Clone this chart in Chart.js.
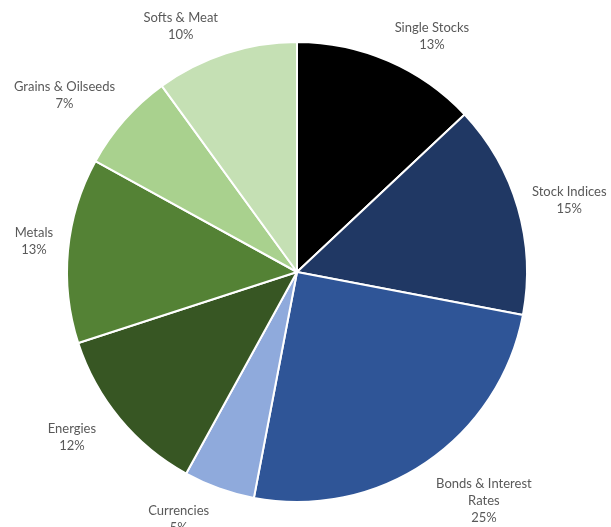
<!DOCTYPE html>
<html>
<head>
<meta charset="utf-8">
<script src="https://cdn.jsdelivr.net/npm/chart.js@4.4.1/dist/chart.umd.min.js"></script>
<style>
  html, body { margin: 0; padding: 0; background: #ffffff; }
  #wrap { width: 611px; height: 527px; position: relative; }
</style>
</head>
<body>
<div id="wrap"><canvas id="chart" width="611" height="527"></canvas></div>
<script>
// Portfolio allocation by sector (percent)
const categories = [
  ['Single Stocks'],
  ['Stock Indices'],
  ['Bonds & Interest', 'Rates'],
  ['Currencies'],
  ['Energies'],
  ['Metals'],
  ['Grains & Oilseeds'],
  ['Softs & Meat']
];
const shares = [13, 15, 25, 5, 12, 13, 7, 10];
const sliceColors = ['#000000', '#203864', '#2F5597', '#8FAADC', '#375623', '#548235', '#A9D18E', '#C5E0B4'];

// Extra shift applied to each outside label after geometric placement
const labelNudge = [[24, 2], [4, 1], [24, 8], [-26, 4], [-20, 0], [-3, -6], [-13, -5], [-30, 1]];

const outsideLabels = {
  id: 'outsideLabels',
  afterDatasetsDraw(chart) {
    const ctx = chart.ctx;
    const meta = chart.getDatasetMeta(0);
    const lineH = 17;
    ctx.save();
    ctx.font = '13px Lato, "Open Sans", sans-serif';
    ctx.fillStyle = '#595959';
    ctx.textAlign = 'center';
    ctx.textBaseline = 'middle';
    meta.data.forEach((arc, i) => {
      const p = arc.getProps(['x', 'y', 'startAngle', 'endAngle', 'outerRadius'], true);
      const mid = (p.startAngle + p.endAngle) / 2;
      const dx = Math.cos(mid), dy = Math.sin(mid);
      const lines = categories[i].concat([shares[i] + '%']);
      const w = Math.max(...lines.map(t => ctx.measureText(t).width));
      const h = lines.length * lineH;
      const r = p.outerRadius + 12;
      const cx = p.x + r * dx + dx * w / 2 + labelNudge[i][0];
      const cy = p.y + r * dy + dy * h / 2 + labelNudge[i][1];
      lines.forEach((t, k) => {
        ctx.fillText(t, cx, cy - h / 2 + lineH / 2 + k * lineH);
      });
    });
    ctx.restore();
  }
};

new Chart(document.getElementById('chart'), {
  type: 'pie',
  data: {
    labels: categories.map(c => c.join(' ')),
    datasets: [{
      data: shares,
      backgroundColor: sliceColors,
      borderColor: '#ffffff',
      borderWidth: 2
    }]
  },
  options: {
    responsive: false,
    animation: false,
    layout: { padding: { top: 41, bottom: 24, left: 0, right: 17 } },
    plugins: {
      legend: { display: false },
      tooltip: { enabled: false }
    }
  },
  plugins: [outsideLabels]
});
</script>
</body>
</html>
